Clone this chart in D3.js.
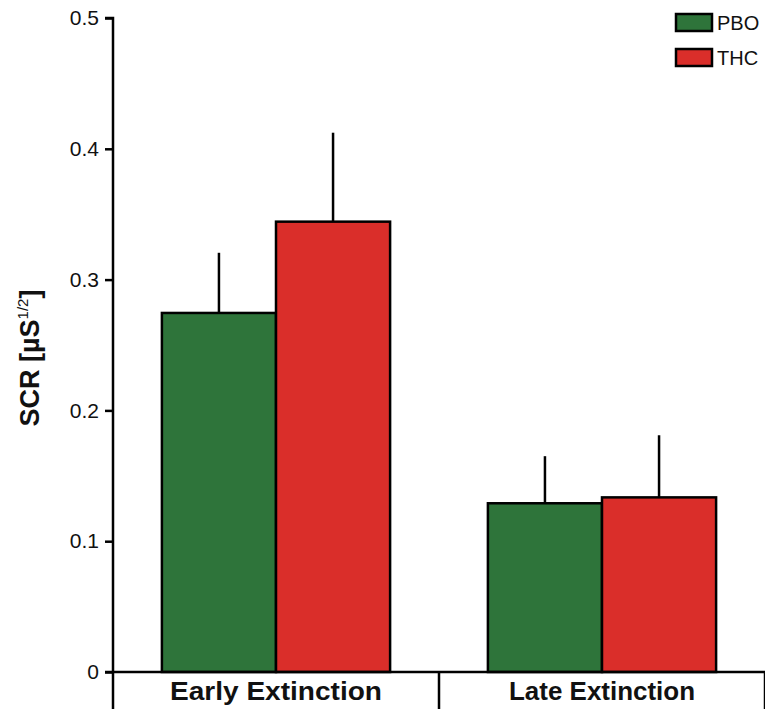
<!DOCTYPE html>
<html><head><meta charset="utf-8">
<script src="https://cdn.jsdelivr.net/npm/d3@7"></script>
<style>body{margin:0;background:#fff}svg{display:block;font-family:"Liberation Sans",Arial,sans-serif}</style>
</head><body><svg id="c" width="765" height="709"></svg>
<script>
const categories = ["Early Extinction", "Late Extinction"];
const seriesNames = ["PBO", "THC"];
const seriesColors = ["#2e743a", "#da2e2a"];
const pboMeans = [0.2745, 0.129];
const thcMeans = [0.3443, 0.1335];
const pboErr = [0.046, 0.036];
const thcErr = [0.068, 0.0475];
const yTicks = [0, 0.1, 0.2, 0.3, 0.4, 0.5];

const svg = d3.select("#c");
const y = d3.scaleLinear().domain([0, 0.5]).range([672, 18]);
const x0 = d3.scaleBand().domain(categories).range([113, 765]).paddingInner(0.3).paddingOuter(0.15);
const x1 = d3.scaleBand().domain(seriesNames).range([0, x0.bandwidth()]);

const data = [];
categories.forEach((c, i) => {
  data.push({cat: c, s: "PBO", v: pboMeans[i], e: pboErr[i], col: seriesColors[0]});
  data.push({cat: c, s: "THC", v: thcMeans[i], e: thcErr[i], col: seriesColors[1]});
});

// error bars (upper only)
svg.append("g").selectAll("line").data(data).join("line")
  .attr("x1", d => x0(d.cat) + x1(d.s) + x1.bandwidth() / 2)
  .attr("x2", d => x0(d.cat) + x1(d.s) + x1.bandwidth() / 2)
  .attr("y1", d => y(d.v)).attr("y2", d => y(d.v + d.e))
  .attr("stroke", "#000").attr("stroke-width", 2.5);

// bars
svg.append("g").selectAll("rect").data(data).join("rect")
  .attr("x", d => x0(d.cat) + x1(d.s))
  .attr("y", d => y(d.v))
  .attr("width", x1.bandwidth())
  .attr("height", d => y(0) - y(d.v))
  .attr("fill", d => d.col).attr("stroke", "#000").attr("stroke-width", 2.5);

// y axis
const yAxis = svg.append("g").attr("transform", "translate(113,0)")
  .call(d3.axisLeft(y).tickValues(yTicks).tickFormat(d => d === 0 ? "0" : d3.format(".1f")(d)).tickSize(8).tickPadding(6));
yAxis.select(".domain").attr("stroke-width", 2.5).attr("d", `M-8,${y(0.5)}H0V${y(0)}`);
yAxis.selectAll(".tick line").attr("stroke-width", 2.5);
yAxis.selectAll(".tick text").attr("font-size", 21).attr("fill", "#111").attr("font-family", "Liberation Sans, Arial, sans-serif");

// bottom axis line & separators
svg.append("line").attr("x1", 105).attr("x2", 765).attr("y1", y(0)).attr("y2", y(0))
  .attr("stroke", "#000").attr("stroke-width", 2.5);
const seps = [x0.range()[0], x0.range()[0] + x0.step(), x0.range()[0] + 2 * x0.step()];
svg.append("g").selectAll("line").data(seps).join("line")
  .attr("x1", d => d).attr("x2", d => d).attr("y1", y(0)).attr("y2", 709)
  .attr("stroke", "#000").attr("stroke-width", 2.5);
svg.append("g").selectAll("text").data(categories).join("text")
  .attr("x", d => x0(d) + x0.bandwidth() / 2).attr("y", 700)
  .attr("text-anchor", "middle").attr("font-size", 25).attr("font-weight", "bold").attr("fill", "#111")
  .attr("textLength", (d, i) => i === 0 ? 212 : 186).attr("lengthAdjust", "spacingAndGlyphs")
  .text(d => d);

// y label
const yl = svg.append("text").attr("transform", "translate(39,358) rotate(-90)")
  .attr("text-anchor", "middle").attr("font-size", 27).attr("font-weight", "bold").attr("fill", "#111");
yl.append("tspan").text("SCR [µS");
yl.append("tspan").attr("font-size", 15).attr("font-weight", "normal").attr("dy", -11).text("1/2");
yl.append("tspan").attr("dy", 11).text("]");

// legend
const lg = svg.append("g");
seriesNames.forEach((s, i) => {
  lg.append("rect").attr("x", 676).attr("y", 14 + i * 35).attr("width", 36).attr("height", 17)
    .attr("fill", seriesColors[i]).attr("stroke", "#000").attr("stroke-width", 2.5);
  lg.append("text").attr("x", 717).attr("y", 30 + i * 35).attr("font-size", 20).attr("fill", "#111").text(s);
});
</script></body></html>
